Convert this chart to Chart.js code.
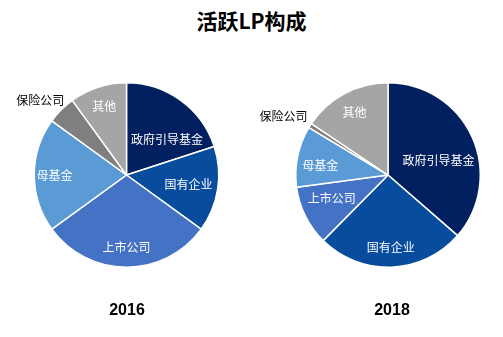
<!DOCTYPE html>
<html>
<head>
<meta charset="utf-8">
<script src="https://cdn.jsdelivr.net/npm/chart.js@4"></script>
<style>
  html, body { margin: 0; padding: 0; background: #fff; }
  body { width: 503px; height: 337px; position: relative; overflow: hidden; }
  #titulo { position: absolute; left: 0; top: 5px; width: 503px; text-align: center;
    font: bold 21px "Noto Sans CJK SC", sans-serif; color: #000; }
  .ano { position: absolute; top: 301px; width: 100px; text-align: center;
    font: bold 16px "Liberation Sans", Arial, sans-serif; color: #000; }
  canvas { position: absolute; top: 0; }
</style>
</head>
<body>
<div id="titulo">活跃LP构成</div>
<canvas id="pizza2016" width="252" height="337" style="left:0"></canvas>
<canvas id="pizza2018" width="252" height="337" style="left:251px"></canvas>
<div class="ano" style="left:77px">2016</div>
<div class="ano" style="left:342px">2018</div>
<script>
const categorias = ["政府引导基金", "国有企业", "上市公司", "母基金", "保险公司", "其他"];
const valores2016 = [20, 15, 30, 20, 5, 10];
const valores2018 = [36.4, 26, 10.5, 10.7, 0.8, 15.6];

const cores = ["#002060", "#084C9E", "#4472C4", "#5B9BD5", "#7F7F7F", "#A5A5A5"];

// rótulos desenhados em cima de cada fatia (保险公司 fica do lado de fora)
const rotulosFatias = {
  id: "rotulosFatias",
  afterDatasetsDraw(chart, args, opts) {
    const ctx = chart.ctx;
    const meta = chart.getDatasetMeta(0);
    ctx.save();
    ctx.font = "12px 'Noto Sans CJK SC', sans-serif";
    ctx.textAlign = "center";
    ctx.textBaseline = "middle";
    meta.data.forEach((arc, i) => {
      // desvio em graus para os rótulos longos não ficarem em cima da borda
      const meio = (arc.startAngle + arc.endAngle) / 2 + (opts.desvios[i] || 0) * Math.PI / 180;
      const r = arc.outerRadius * opts.raios[i];
      const x = arc.x + Math.cos(meio) * r;
      const y = arc.y + Math.sin(meio) * r;
      ctx.fillStyle = opts.raios[i] > 1 ? "#000" : "#fff";
      ctx.fillText(chart.data.labels[i], x, y);
    });
    ctx.restore();
  }
};

function desenharPizza(id, valores, padding, raios, desvios) {
  const ctx = document.getElementById(id).getContext("2d");
  return new Chart(ctx, {
    type: "pie",
    data: {
      labels: categorias,
      datasets: [{
        data: valores,
        backgroundColor: cores,
        borderColor: "#fff",
        borderWidth: 1.5
      }]
    },
    options: {
      responsive: false,
      animation: false,
      layout: { padding },
      plugins: {
        legend: { display: false },
        tooltip: { enabled: false },
        rotulosFatias: { raios, desvios }
      }
    },
    plugins: [rotulosFatias]
  });
}

desenharPizza("pizza2016", valores2016,
  { top: 82, bottom: 69, left: 1, right: 0 },
  [0.58, 0.68, 0.79, 0.78, 1.24, 0.78],
  [13, 0, 0, 0, -4, 0]);
desenharPizza("pizza2018", valores2018,
  { top: 82, bottom: 69, left: 22, right: 0 },
  [0.57, 0.79, 0.66, 0.74, 1.3, 0.77],
  [8, 0, 4, -4, -3, 0]);
</script>
</body>
</html>
